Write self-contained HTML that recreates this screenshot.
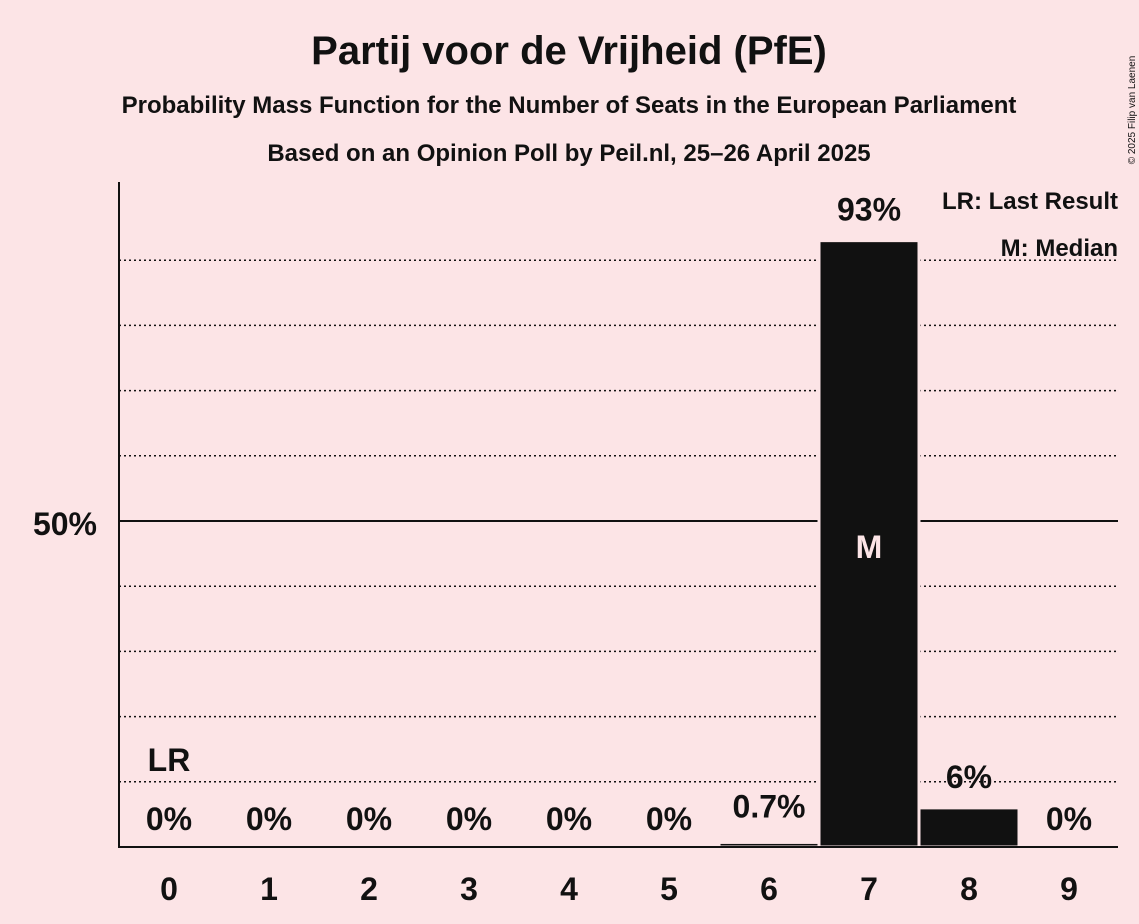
<!DOCTYPE html>
<html><head><meta charset="utf-8"><style>
html,body{margin:0;padding:0;background:#fce4e6;}
svg{display:block;font-family:"Liberation Sans",sans-serif;}
</style></head><body>
<svg id="chart" width="1139" height="924" viewBox="0 0 1139 924">
<rect width="1139" height="924" fill="#fce4e6"/>
<text x="569" y="64" text-anchor="middle" font-size="40" font-weight="bold" fill="#111">Partij voor de Vrijheid (PfE)</text>
<text x="569" y="113" text-anchor="middle" font-size="24" font-weight="bold" fill="#111">Probability Mass Function for the Number of Seats in the European Parliament</text>
<text x="569" y="161" text-anchor="middle" font-size="24" font-weight="bold" fill="#111">Based on an Opinion Poll by Peil.nl, 25–26 April 2025</text>
<text x="1135" y="110" transform="rotate(-90 1135 110)" text-anchor="middle" font-size="10" fill="#111">© 2025 Filip van Laenen</text>
<g id="grid"></g>
<g id="bars"></g>
<g id="labels"></g>
<line x1="119" y1="182" x2="119" y2="848" stroke="#111" stroke-width="2"/>
<line x1="118" y1="847" x2="1118" y2="847" stroke="#111" stroke-width="2"/>
<text x="97" y="535" text-anchor="end" font-size="32" font-weight="bold" fill="#111">50%</text>
<text x="1118" y="209" text-anchor="end" font-size="24" font-weight="bold" fill="#111">LR: Last Result</text>
<text x="1118" y="256" text-anchor="end" font-size="24" font-weight="bold" fill="#111">M: Median</text>
</svg>
<script>
const categories=[0,1,2,3,4,5,6,7,8,9];
const values=[0,0,0,0,0,0,0.7,93,6,0];
const valueLabels=["0%","0%","0%","0%","0%","0%","0.7%","93%","6%","0%"];
const gridTicks=[10,20,30,40,60,70,80,90];
const medianIndex=7, lastResultIndex=0;
const NS="http://www.w3.org/2000/svg";
const y=v=>847-v*6.52;
const x=i=>169+i*100;
function mk(t,a,p){const e=document.createElementNS(NS,t);for(const k in a)e.setAttribute(k,a[k]);p.appendChild(e);return e;}
const grid=document.getElementById('grid'),bars=document.getElementById('bars'),labels=document.getElementById('labels');
gridTicks.forEach(t=>{
 const l=mk('line',{x1:119,x2:1118,y1:y(t),y2:y(t),stroke:'#111','stroke-width':1.5,'stroke-dasharray':'2,3'},grid);
 
 
});
const m=mk('line',{x1:119,x2:1118,y1:y(50),y2:y(50),stroke:'#111','stroke-width':2},grid);


categories.forEach((c,i)=>{
 const v=values[i];
 if(v>0){
  const r=mk('rect',{x:x(i)-50,y:y(v),width:100,height:847-y(v),fill:'#111',stroke:'#fce4e6','stroke-width':3},bars);
  
  
 }
 const ly=v>=5?y(v)-20:817+13;
 const t=mk('text',{x:x(i),y:(v>=5?y(v)-20:(v>0?y(v)-25:830)),'text-anchor':'middle','font-size':32,'font-weight':'bold',fill:'#111'},labels);
 t.textContent=valueLabels[i];
 
 
 const xt=mk('text',{x:x(i),y:900,'text-anchor':'middle','font-size':32,'font-weight':'bold',fill:'#111'},labels);
 xt.textContent=c;
 
 
});
const mt=mk('text',{x:x(medianIndex),y:558,'text-anchor':'middle','font-size':32,'font-weight':'bold',fill:'#fce4e6'},labels);
mt.textContent='M';


const lr=mk('text',{x:x(lastResultIndex),y:771,'text-anchor':'middle','font-size':32,'font-weight':'bold',fill:'#111'},labels);
lr.textContent='LR';


</script>
</body></html>
